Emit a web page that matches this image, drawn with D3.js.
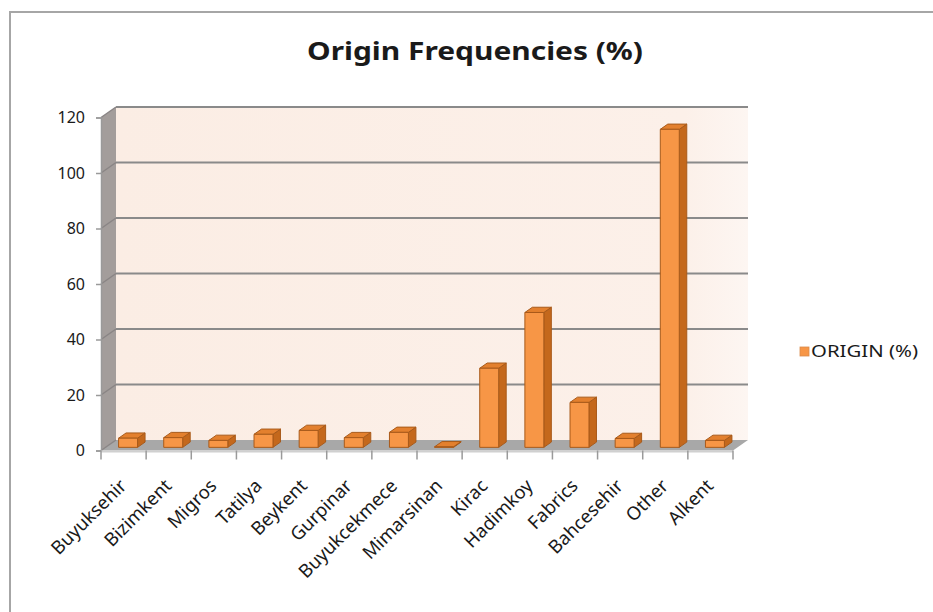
<!DOCTYPE html>
<html>
<head>
<meta charset="utf-8">
<script src="https://cdn.jsdelivr.net/npm/d3@7"></script>
<style>
  body { margin: 0; background: #fff; }
  text { font-family: "Noto Sans", "Open Sans", sans-serif; fill: #1a1a1a; }
</style>
</head>
<body>
<svg id="chart" width="933" height="612"></svg>
<script>
const categories = ["Buyuksehir", "Bizimkent", "Migros", "Tatilya", "Beykent", "Gurpinar",
    "Buyukcekmece", "Mimarsinan", "Kirac", "Hadimkoy", "Fabrics", "Bahcesehir", "Other", "Alkent"]
const values = [3.3, 3.5, 2.5, 4.7, 6.1, 3.5, 5.4, 0.2, 28.5, 48.6, 16.2, 3.2, 114.6, 2.5]
const yTicks = [0, 20, 40, 60, 80, 100, 120]
const title = "Origin Frequencies (%)"
const seriesName = "ORIGIN (%)"

const svg = d3.select("#chart")

// front plane of the 3d box, back plane is shifted by depth
const front = {left: 101, right: 733, top: 117.5, bottom: 450.5}
const depth = {dx: 15, dy: -10.5}

const x = d3.scaleBand()
    .domain(categories)
    .range([front.left, front.right])

const y = d3.scaleLinear()
    .domain([0, 120])
    .range([front.bottom, front.top])

// project a point at depth z (0 = front, 1 = back)
const P = (px, py, z) => [px + z * depth.dx, py + z * depth.dy]
const poly = pts => pts.map(p => p.join(",")).join(" ")

// chart border (top and left visible)
svg.append("path")
    .attr("d", "M10,612 L10,12 L933,12")
    .attr("fill", "none")
    .attr("stroke", "#a6a6a6")
    .attr("stroke-width", 2)

// back wall
const defs = svg.append("defs")
const grad = defs.append("linearGradient").attr("id", "wall").attr("x1", 0).attr("x2", 1)
grad.append("stop").attr("offset", 0).attr("stop-color", "#fbede4")
grad.append("stop").attr("offset", 0.9).attr("stop-color", "#fcf0e9")
grad.append("stop").attr("offset", 1).attr("stop-color", "#fdf6f2")

const [bl, bt] = P(front.left, front.top, 1)
const [br, bb] = P(front.right, front.bottom, 1)
svg.append("rect")
    .attr("x", bl).attr("y", bt)
    .attr("width", br - bl).attr("height", bb - bt)
    .attr("fill", "url(#wall)")

// side wall
svg.append("polygon")
    .attr("points", poly([
        P(front.left, front.bottom, 0), P(front.left, front.top, 0),
        P(front.left, front.top, 1), P(front.left, front.bottom, 1)]))
    .attr("fill", "#a39d9b")

// floor
svg.append("polygon")
    .attr("points", poly([
        P(front.left, front.bottom, 0), P(front.right, front.bottom, 0),
        P(front.right, front.bottom, 1), P(front.left, front.bottom, 1)]))
    .attr("fill", "#a8a8a8")

// gridlines on back wall + side wall
yTicks.forEach(t => {
    if (t > 0) {
        svg.append("line")
            .attr("x1", P(front.left, y(t), 1)[0]).attr("y1", P(front.left, y(t), 1)[1])
            .attr("x2", P(front.right, y(t), 1)[0]).attr("y2", P(front.right, y(t), 1)[1])
            .attr("stroke", "#8a8a8a").attr("stroke-width", 2)
    }
    svg.append("line")
        .attr("x1", P(front.left, y(t), 0)[0]).attr("y1", P(front.left, y(t), 0)[1])
        .attr("x2", P(front.left, y(t), 1)[0]).attr("y2", P(front.left, y(t), 1)[1])
        .attr("stroke", "#8a8585").attr("stroke-width", 1.5)
})

// y axis
const yAxis = svg.append("g")
    .attr("transform", "translate(" + front.left + ",0)")
    .call(d3.axisLeft(y).tickValues(yTicks).tickSize(5).tickPadding(11))
yAxis.select(".domain").attr("stroke", "#9a9a9a").attr("stroke-width", 1.5)
yAxis.selectAll(".tick line").attr("stroke", "#9a9a9a").attr("stroke-width", 1.5)
yAxis.selectAll("text")
    .style("font-family", "'Noto Sans', sans-serif")
    .style("font-size", "16px")
    .attr("fill", "#1a1a1a")

// x axis ticks at category borders
const xAxis = svg.append("g")
xAxis.append("line")
    .attr("x1", front.left).attr("x2", front.right)
    .attr("y1", front.bottom + 1).attr("y2", front.bottom + 1)
    .attr("stroke", "#d0d0d0").attr("stroke-width", 2)
xAxis.selectAll("line.tk")
    .data(categories.concat([null]))
    .enter()
    .append("line")
    .attr("class", "tk")
    .attr("x1", (d, i) => front.left + i * x.step())
    .attr("x2", (d, i) => front.left + i * x.step())
    .attr("y1", front.bottom)
    .attr("y2", front.bottom + 9)
    .attr("stroke", "#9a9a9a").attr("stroke-width", 1.5)

xAxis.selectAll("text")
    .data(categories)
    .enter()
    .append("text")
    .attr("transform", d => "translate(" + (x(d) + x.bandwidth() / 2 + 4) + ",487) rotate(-45)")
    .style("text-anchor", "end")
    .style("font-size", "18.5px")
    .text(d => d)

// bars
const z0 = 0.3, z1 = 0.8
const barW = x.bandwidth() * 0.42
const bars = svg.append("g")
categories.forEach((c, i) => {
    const cx = x(c) + x.bandwidth() / 2
    const xl = cx - barW / 2, xr = cx + barW / 2
    const yt = y(values[i]), yb = y(0)
    const g = bars.append("g").attr("stroke", "#a85a1a").attr("stroke-width", 1).attr("stroke-linejoin", "round")
    // side
    g.append("polygon")
        .attr("points", poly([P(xr, yt, z0), P(xr, yt, z1), P(xr, yb, z1), P(xr, yb, z0)]))
        .attr("fill", "#c4681c")
    // top
    g.append("polygon")
        .attr("points", poly([P(xl, yt, z0), P(xr, yt, z0), P(xr, yt, z1), P(xl, yt, z1)]))
        .attr("fill", "#e3802e")
    // front
    g.append("polygon")
        .attr("points", poly([P(xl, yt, z0), P(xr, yt, z0), P(xr, yb, z0), P(xl, yb, z0)]))
        .attr("fill", "#f79646")
})

// title
svg.append("text")
    .attr("x", 475)
    .attr("y", 60)
    .attr("text-anchor", "middle")
    .style("font-size", "25px")
    .style("font-weight", "bold")
    .attr("textLength", 336)
    .attr("lengthAdjust", "spacingAndGlyphs")
    .text(title)

// legend
const legend = svg.append("g").attr("transform", "translate(800,347)")
legend.append("rect")
    .attr("width", 9).attr("height", 9)
    .attr("fill", "#f79646").attr("stroke", "#d98a4a").attr("stroke-width", 0.8)
legend.append("text")
    .attr("x", 11).attr("y", 10)
    .style("font-size", "17px")
    .attr("textLength", 107)
    .attr("lengthAdjust", "spacingAndGlyphs")
    .text(seriesName)
</script>
</body>
</html>
